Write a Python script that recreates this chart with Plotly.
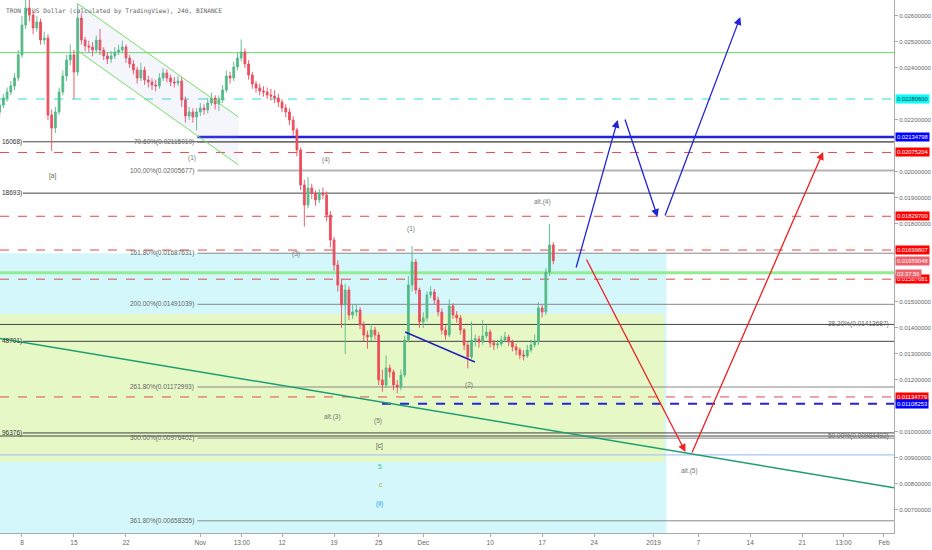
import pandas as pd
import plotly.graph_objects as go

dates = pd.date_range("2018-10-05 00:00", periods=150, freq="12h")

closes = [
    0.022577, 0.022846, 0.023077, 0.023308, 0.023615, 0.024500, 0.025654, 0.026308, 0.026038, 0.025538,
    0.025769, 0.025077, 0.025154, 0.022192, 0.021692, 0.022308, 0.023077, 0.023692, 0.024308, 0.024500,
    0.023846, 0.025923, 0.025077, 0.024846, 0.024808, 0.024692, 0.025077, 0.024692, 0.024462, 0.024346,
    0.024462, 0.024615, 0.024692, 0.024808, 0.024385, 0.024154, 0.023923, 0.023615, 0.023923, 0.023538,
    0.023462, 0.023346, 0.023308, 0.023615, 0.023808, 0.023615, 0.023462, 0.023423, 0.023500, 0.022769,
    0.022154, 0.022308, 0.022115, 0.022308, 0.022462, 0.022385, 0.022654, 0.022846, 0.022615, 0.022769,
    0.023154, 0.023692, 0.023615, 0.024038, 0.024385, 0.024615, 0.024154, 0.023731, 0.023385, 0.023231,
    0.023115, 0.023077, 0.022962, 0.022920, 0.022846, 0.022692, 0.022462, 0.022308, 0.022000, 0.021615,
    0.020846, 0.019500, 0.018731, 0.019385, 0.019192, 0.018923, 0.019192, 0.019115, 0.018346, 0.017385,
    0.016423, 0.015654, 0.014885, 0.015462, 0.014500, 0.014615, 0.014692, 0.014115, 0.013731, 0.013654,
    0.013923, 0.013731, 0.012000, 0.011808, 0.012462, 0.012308, 0.011808, 0.011731, 0.012192, 0.013538,
    0.015654, 0.016538, 0.015462, 0.014231, 0.014385, 0.015269, 0.015385, 0.015077, 0.014615, 0.013923,
    0.013731, 0.014846, 0.014500, 0.014385, 0.013923, 0.013346, 0.012885, 0.013538, 0.013577, 0.013462,
    0.013692, 0.013846, 0.013423, 0.013346, 0.013385, 0.013538, 0.013654, 0.013462, 0.013269, 0.013154,
    0.012962, 0.012923, 0.013154, 0.013346, 0.013462, 0.014769, 0.014615, 0.016154, 0.017192, 0.016590,
]
highs = [
    0.022750, 0.023000, 0.023250, 0.023500, 0.023800, 0.024700, 0.026000, 0.026800, 0.026700, 0.026200,
    0.026000, 0.025900, 0.025400, 0.025300, 0.022400, 0.022500, 0.023250, 0.023900, 0.024500, 0.024900,
    0.024700, 0.026450, 0.026100, 0.025200, 0.025050, 0.025000, 0.025250, 0.025500, 0.024800, 0.024600,
    0.024650, 0.024800, 0.024900, 0.025050, 0.024900, 0.024500, 0.024300, 0.024050, 0.024200, 0.024050,
    0.023700, 0.023600, 0.023550, 0.023800, 0.024000, 0.023950, 0.023750, 0.023650, 0.023700, 0.023650,
    0.022900, 0.022500, 0.022450, 0.022450, 0.022650, 0.022600, 0.022850, 0.023050, 0.022950, 0.022950,
    0.023350, 0.023900, 0.023850, 0.024250, 0.024600, 0.025100, 0.024750, 0.024300, 0.023850, 0.023500,
    0.023400, 0.023300, 0.023250, 0.023200, 0.023150, 0.023000, 0.022800, 0.022600, 0.022450, 0.022150,
    0.021700, 0.020950, 0.019700, 0.019800, 0.019550, 0.019300, 0.019350, 0.019400, 0.019250, 0.018500,
    0.017500, 0.016600, 0.015900, 0.015700, 0.015600, 0.014900, 0.014900, 0.014800, 0.014250, 0.013900,
    0.014150, 0.014050, 0.013850, 0.012400, 0.012950, 0.012600, 0.012400, 0.012000, 0.012400, 0.013700,
    0.016000, 0.017150, 0.016650, 0.015550, 0.014600, 0.015400, 0.015600, 0.015500, 0.015200, 0.014750,
    0.014100, 0.015100, 0.014950, 0.014650, 0.014500, 0.014000, 0.013450, 0.014250, 0.013750, 0.013700,
    0.014300, 0.014100, 0.013950, 0.013550, 0.013550, 0.013700, 0.013850, 0.013750, 0.013550, 0.013400,
    0.013250, 0.013150, 0.013350, 0.013550, 0.013750, 0.015000, 0.014900, 0.016300, 0.018000, 0.017300,
]
lows = [
    0.022100, 0.022450, 0.022700, 0.022950, 0.023150, 0.023500, 0.024400, 0.025500, 0.025800, 0.025300,
    0.025400, 0.024900, 0.024900, 0.022000, 0.020800, 0.021500, 0.022200, 0.022950, 0.023500, 0.024100,
    0.022800, 0.023700, 0.024900, 0.024650, 0.024600, 0.024450, 0.024600, 0.024500, 0.024300, 0.024150,
    0.024200, 0.024350, 0.024500, 0.024600, 0.024200, 0.024000, 0.023750, 0.023400, 0.023500, 0.023350,
    0.023250, 0.023150, 0.023100, 0.023200, 0.023500, 0.023450, 0.023300, 0.023250, 0.023300, 0.022500,
    0.021900, 0.022000, 0.021900, 0.021600, 0.022150, 0.022200, 0.022250, 0.022550, 0.022400, 0.022350,
    0.022650, 0.023050, 0.023400, 0.023500, 0.023900, 0.024250, 0.024000, 0.023550, 0.023200, 0.023050,
    0.022950, 0.022900, 0.022800, 0.022750, 0.022650, 0.022500, 0.022300, 0.022100, 0.021800, 0.021400,
    0.020600, 0.019300, 0.017900, 0.018600, 0.018950, 0.018700, 0.018800, 0.018950, 0.018100, 0.017100,
    0.016200, 0.015400, 0.014000, 0.013000, 0.014300, 0.014350, 0.014450, 0.013950, 0.013500, 0.013200,
    0.013500, 0.013550, 0.011800, 0.011550, 0.011700, 0.012100, 0.011600, 0.011500, 0.011600, 0.012100,
    0.013450, 0.015400, 0.015300, 0.014000, 0.014000, 0.014250, 0.015150, 0.014900, 0.014450, 0.013750,
    0.013550, 0.013650, 0.014350, 0.014200, 0.013750, 0.013150, 0.012450, 0.012800, 0.013300, 0.013250,
    0.013350, 0.013600, 0.013250, 0.013150, 0.013200, 0.013300, 0.013450, 0.013300, 0.013100, 0.012950,
    0.012800, 0.012750, 0.012850, 0.013050, 0.013250, 0.013350, 0.014400, 0.014500, 0.016000, 0.016450,
]
first_open = 0.022300
opens = [first_open] + closes[:-1]

# horizontal levels
red_dashed = [0.02075204, 0.01829700, 0.01699807, 0.01587681, 0.01134779]
fib_prices = [0.02115010, 0.02005677, 0.01687631, 0.01491039, 0.01172993, 0.00976402, 0.00658355]
fib_labels = ["70.60%(0.02115010)", "100.00%(0.02005677)", "161.80%(0.01687631)",
              "200.00%(0.01491039)", "261.80%(0.01172993)", "300.00%(0.00976402)",
              "361.80%(0.00658355)"]
left_prices = [0.02116068, 0.01918693, 0.01348701, 0.00996376]
left_labels = ["16068)", "18693)", "48701)", "96376)"]
right_prices = [0.01413687, 0.00984492]
right_labels = ["38.20%(0.01413687)", "50.00%(0.00984492)"]
green_level = 0.02459
cyan_level = 0.02280600
blue_level = 0.02134798
blue_dash_level = 0.01108253
thick_green_level = 0.01612
light_blue_level = 0.00912

# price tags on the axis
tag_prices = [0.02280600, 0.02134798, 0.02075204, 0.01829700, 0.01699807,
              0.01659048, 0.01587681, 0.01134779, 0.01108253]
tag_colors = ["#00ffff", "#0000ff", "#ff0000", "#ff0000", "#ff0000",
              "#ef5f6a", "#ff0000", "#ff0000", "#0000ff"]

# wave labels
wave_text = ["[a]", "(1)", "(4)", "alt.(4)", "(1)", "(3)", "(2)", "alt.(3)", "(5)",
             "[c]", "5", "c", "(ii)", "alt.(5)"]
wave_x = ["2018-10-12 04:00", "2018-10-30 20:00", "2018-11-17 23:00", "2018-12-17 02:00",
          "2018-11-29 08:40", "2018-11-13 22:00", "2018-12-07 03:40", "2018-11-18 18:00",
          "2018-11-24 22:00", "2018-11-25 01:40", "2018-11-25 05:00", "2018-11-25 08:00",
          "2018-11-25 01:40", "2019-01-05 19:40"]
wave_y = [0.019846, 0.020538, 0.020462, 0.018846, 0.017808, 0.016846, 0.011808, 0.010577,
          0.010423, 0.009462, 0.008654, 0.007962, 0.007231, 0.008500]
wave_colors = ["#5b6b4a", "#777", "#777", "#777", "#777", "#777", "#777", "#777", "#777",
               "#555", "#2ecc71", "#c9a227", "#2196f3", "#777"]

# projected arrows (start, end)
blue_arrows = [
    (("2018-12-21 12:30", 0.016269), ("2018-12-27 04:00", 0.022000)),
    (("2018-12-28 02:00", 0.022077), ("2019-01-01 12:45", 0.018269)),
    (("2019-01-02 11:15", 0.018269), ("2019-01-12 16:00", 0.025962)),
]
red_arrows = [
    (("2018-12-22 20:40", 0.016692), ("2019-01-05 07:00", 0.009231)),
    (("2019-01-06 02:00", 0.009154), ("2019-01-23 19:30", 0.020769)),
]

channel_x = ["2018-10-15 09:00", "2018-11-06 03:20"]
channel_top = [0.026500, 0.022115]
channel_bottom = [0.024692, 0.020269]
trend_x = ["2018-10-05 01:06", "2019-02-02 08:24"]
trend_y = [0.013600, 0.007858]
wedge_x = ["2018-11-28 13:30", "2018-12-07 23:00"]
wedge_y = [0.013846, 0.012692]

tick_dates = ["2018-10-08", "2018-10-15", "2018-10-22", "2018-11-01", "2018-11-06 14:00",
              "2018-11-12", "2018-11-19", "2018-11-25", "2018-12-01", "2018-12-10",
              "2018-12-17", "2018-12-24", "2019-01-01", "2019-01-07", "2019-01-14",
              "2019-01-21", "2019-01-26 13:00", "2019-02-01"]
tick_text = ["8", "15", "22", "Nov", "13:00", "12", "19", "25", "Dec", "10", "17", "24",
             "2019", "7", "14", "21", "13:00", "Feb"]
price_ticks = [0.026, 0.025, 0.024, 0.022, 0.020, 0.019, 0.018, 0.015, 0.014,
               0.013, 0.012, 0.010, 0.009, 0.008, 0.007]

X0, X1 = "2018-10-05 01:06", "2019-02-02 08:24"
FIB_START = "2018-10-31 15:00"
LEFT_START = "2018-10-08 03:00"
FIB_LABEL_X = "2018-10-31 08:40"

fig = go.Figure()

# channel fill
fig.add_trace(go.Scatter(
    x=channel_x + channel_x[::-1], y=channel_top + channel_bottom[::-1],
    fill="toself", fillcolor="rgba(160,170,230,0.10)", line=dict(width=0),
    mode="lines", hoverinfo="skip", showlegend=False))

fig.add_trace(go.Candlestick(
    x=dates, open=opens, high=highs, low=lows, close=closes,
    increasing=dict(line=dict(color="#53b987", width=0.9), fillcolor="#53b987"),
    decreasing=dict(line=dict(color="#eb4d5c", width=0.9), fillcolor="#eb4d5c"),
    whiskerwidth=0, showlegend=False))

shapes = []
# boxes
shapes.append(dict(type="rect", xref="x", yref="y", x0=X0, x1="2019-01-02 17:30",
                   y0=0.006115, y1=fib_prices[2], layer="below", line=dict(width=0),
                   fillcolor="#d4f7fc"))
shapes.append(dict(type="rect", xref="x", yref="y", x0=X0, x1="2019-01-02 11:15",
                   y0=0.008846, y1=0.014538, layer="below", line=dict(width=0),
                   fillcolor="#e6f8c6"))


def hline(y, x0, color, width=1, dash="solid"):
    shapes.append(dict(type="line", xref="x", yref="y", x0=x0, x1=X1, y0=y, y1=y,
                       layer="below", line=dict(color=color, width=width, dash=dash)))


hline(green_level, X0, "#66dd66")
hline(cyan_level, X0, "#33dddd", 1, "dash")
for p in red_dashed:
    hline(p, X0, "#e04a4a", 1, "dash")
for i, p in enumerate(fib_prices):
    if i == 1:
        hline(p, FIB_START, "#b4b4b4", 2)
    else:
        hline(p, FIB_START, "#888888", 1)
for p in left_prices:
    hline(p, LEFT_START, "#444444", 1)
for p in right_prices:
    hline(p, X0, "#444444", 1)
hline(thick_green_level, X0, "#90ee90", 3)
hline(light_blue_level, X0, "#a9c8f2", 1.2)
hline(blue_level, FIB_START, "#2323d8", 2.5)
hline(blue_dash_level, "2018-11-25 11:00", "#2323d8", 2, "dash")

# channel lines, trend line, small wedge line
for ys in (channel_top, channel_bottom):
    shapes.append(dict(type="line", xref="x", yref="y", x0=channel_x[0], x1=channel_x[1],
                       y0=ys[0], y1=ys[1], line=dict(color="#77dd66", width=1)))
shapes.append(dict(type="line", xref="x", yref="y", x0=trend_x[0], x1=trend_x[1],
                   y0=trend_y[0], y1=trend_y[1], line=dict(color="#1f9d74", width=1.5)))
shapes.append(dict(type="line", xref="x", yref="y", x0=wedge_x[0], x1=wedge_x[1],
                   y0=wedge_y[0], y1=wedge_y[1], line=dict(color="#2323b8", width=1.5)))

ann = []
small = dict(family="Liberation Sans", size=6.5, color="#666")
for p, t in zip(fib_prices, fib_labels):
    ann.append(dict(x=FIB_LABEL_X, y=p, text=t, showarrow=False, xanchor="right",
                    yanchor="middle", font=small))
for p, t in zip(left_prices, left_labels):
    ann.append(dict(xref="paper", x=0, y=p, text=t, showarrow=False, xanchor="left",
                    yanchor="middle", font=dict(family="Liberation Sans", size=6.5, color="#333")))
for p, t in zip(right_prices, right_labels):
    ann.append(dict(xref="paper", x=0.997, y=p, text=t, showarrow=False, xanchor="right",
                    yanchor="middle", font=small))
for t, x, y, c in zip(wave_text, wave_x, wave_y, wave_colors):
    ann.append(dict(x=x, y=y, text=t, showarrow=False,
                    font=dict(family="Liberation Sans", size=6.5, color=c)))

for arrows, col in ((blue_arrows, "#2323d8"), (red_arrows, "#ee2020")):
    for (sx, sy), (ex, ey) in arrows:
        ann.append(dict(x=ex, y=ey, ax=sx, ay=sy, axref="x", ayref="y", text="",
                        showarrow=True, arrowhead=2, arrowsize=1.2, arrowwidth=1.3,
                        arrowcolor=col))

for p, c in zip(tag_prices, tag_colors):
    ann.append(dict(xref="paper", x=1, xshift=1, y=p, text="%.8f" % p, showarrow=False,
                    xanchor="left", yanchor="middle", bgcolor=c, borderpad=1,
                    font=dict(family="Liberation Sans", size=5.8,
                              color="#222" if c == "#00ffff" else "white")))
ann.append(dict(xref="paper", x=1, xshift=1, y=0.01612, yshift=-1, text="03:37:56",
                showarrow=False, xanchor="left", yanchor="middle", bgcolor="#ef5f6a",
                borderpad=1, font=dict(family="Liberation Sans", size=5.8, color="white")))
ann.append(dict(xref="paper", yref="paper", x=0.004, y=1, yshift=-5,
                text="TRON / US Dollar (calculated by TradingView), 240, BINANCE",
                showarrow=False, xanchor="left", yanchor="top",
                font=dict(family="DejaVu Sans Mono", size=6.2, color="#666")))

fig.update_layout(
    width=932, height=550,
    margin=dict(l=0, r=36, t=0, b=17),
    paper_bgcolor="white", plot_bgcolor="white",
    shapes=shapes, annotations=ann, showlegend=False,
    xaxis=dict(range=[X0, X1], type="date", rangeslider=dict(visible=False),
               tickvals=tick_dates, ticktext=tick_text, showgrid=False, zeroline=False,
               showline=True, linecolor="#aaa", ticks="outside", ticklen=3,
               tickcolor="#aaa", tickfont=dict(family="Liberation Sans", size=6.5, color="#666")),
    yaxis=dict(range=[0.006115, 0.026615], side="right", tickvals=price_ticks,
               tickformat=".8f", showgrid=False, zeroline=False, showline=True,
               linecolor="#aaa", ticks="outside", ticklen=3, tickcolor="#aaa",
               tickfont=dict(family="Liberation Sans", size=6, color="#666")),
)

# the page body has a default 8px margin; drop it so the chart fills the window
fig.write_html("out.html", config={"displayModeBar": False},
               post_script="document.body.style.margin='0px';")
